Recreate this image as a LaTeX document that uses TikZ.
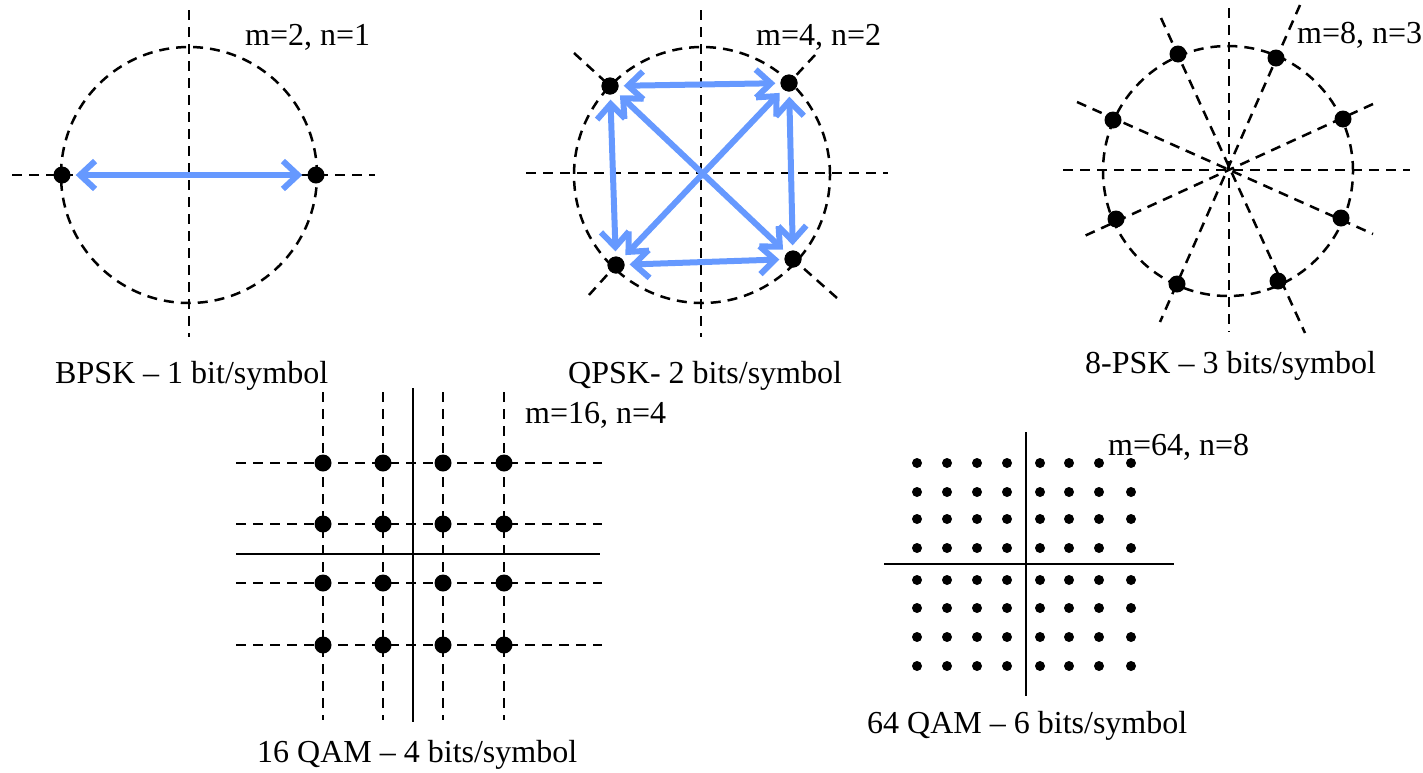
\documentclass[tikz,border=0pt]{standalone}
\usepackage{fontspec}
\setmainfont{Liberation Serif}
\usetikzlibrary{arrows.meta}
\definecolor{arrowblue}{RGB}{102,153,255}
\begin{document}
\begin{tikzpicture}[x=1pt,y=-1pt,
  axis/.style={line width=2.5pt, dash pattern=on 10pt off 7pt},
  solidaxis/.style={line width=2.6pt},
  dot/.style={circle, fill=black, inner sep=0pt, minimum size=17pt},
  smalldot/.style={circle, fill=black, inner sep=0pt, minimum size=10pt},
  link/.style={draw=arrowblue, line width=6pt, line cap=round,
    {Straight Barb[length=15pt,width=28pt]}-{Straight Barb[length=15pt,width=28pt]},
    shorten <=5pt, shorten >=5pt},
  lbl/.style={font=\fontsize{32}{38}\selectfont, inner sep=0pt, anchor=base west}]
\useasboundingbox (0,0) rectangle (1423,772);

% ---------------- BPSK ----------------
\draw[axis] (189,10) -- (189,337);
\draw[axis] (12,175) -- (375,175);
\draw[axis] (189,175) circle[radius=128pt];
\node[dot] (b1) at (62,175) {};
\node[dot] (b2) at (316,175) {};
\draw[link] (b1) -- (b2);
\node[lbl] (bm) at (245,45) {m=2, n=1};
\node[lbl] (bc) at (55,383) {BPSK – 1 bit/symbol};

% ---------------- QPSK ----------------
\draw[axis] (701,10) -- (701,337);
\draw[axis] (526,173) -- (888,173);
\draw[axis] (702,175) circle[radius=128pt];
\coordinate (q1o) at (574,53);
\coordinate (q2o) at (815,55);
\coordinate (q3o) at (589,295);
\coordinate (q4o) at (837,298);
\node[dot] (q1) at (610,86) {};
\node[dot] (q2) at (789,83) {};
\node[dot] (q3) at (616,265) {};
\node[dot] (q4) at (793,259) {};
\draw[axis] (q1o) -- (q1.center);
\draw[axis] (q2o) -- (q2.center);
\draw[axis] (q3o) -- (q3.center);
\draw[axis] (q4o) -- (q4.center);
\node[dot] at (q1) {};
\node[dot] at (q2) {};
\node[dot] at (q3) {};
\node[dot] at (q4) {};
\draw[link] (q1) -- (q2);
\draw[link] (q3) -- (q4);
\draw[link] (q1) -- (q3);
\draw[link] (q2) -- (q4);
\draw[link] (q1) -- (q4);
\draw[link] (q2) -- (q3);
\node[lbl] (qm) at (756,45) {m=4, n=2};
\node[lbl] (qc) at (568,383) {QPSK- 2 bits/symbol};

% ---------------- 8-PSK ----------------
\draw[axis] (1229,8) -- (1229,332);
\draw[axis] (1063,170) -- (1410,170);
\draw[axis] (1228,171) circle[radius=125pt];
\draw[axis] (1373,104) -- (1080,238);
\draw[axis] (1300,5) -- (1160,322);
\draw[axis] (1161,18) -- (1305,333);
\draw[axis] (1077,102) -- (1373,234);
\node[dot] (p1) at (1178,54) {};
\node[dot] (p2) at (1276,58) {};
\node[dot] (p3) at (1113,120) {};
\node[dot] (p4) at (1343,119) {};
\node[dot] (p5) at (1116,219) {};
\node[dot] (p6) at (1341,218) {};
\node[dot] (p7) at (1177,284) {};
\node[dot] (p8) at (1278,281) {};
\node[lbl] (pm) at (1297,43) {m=8, n=3};
\node[lbl] (pc) at (1085,373) {8-PSK – 3 bits/symbol};

% ---------------- 16 QAM ----------------
\foreach \x in {323,383,443,504} \draw[axis] (\x,392) -- (\x,720);
\foreach \y in {463,524,583,645} \draw[axis] (236,\y) -- (602,\y);
\draw[solidaxis] (413,388) -- (413,722);
\draw[solidaxis] (236,554) -- (600,554);
\foreach \x [count=\i] in {323,383,443,504}
  \foreach \y [count=\j] in {463,524,583,645}
    \node[dot] (s\i\j) at (\x,\y) {};
\node[lbl] (sm) at (525,423) {m=16, n=4};
\node[lbl] (sc) at (257,762) {16 QAM – 4 bits/symbol};

% ---------------- 64 QAM ----------------
\draw[solidaxis] (1026,432) -- (1026,696);
\draw[solidaxis] (884,564) -- (1174,564);
\foreach \x [count=\i] in {917,947,977,1007,1040,1069,1099,1131}
  \foreach \y [count=\j] in {463,492,519,548,580,608,637,666}
    \node[smalldot] (t\i\j) at (\x,\y) {};
\node[lbl] (tm) at (1108,455) {m=64, n=8};
\node[lbl] (tc) at (867,733) {64 QAM – 6 bits/symbol};
\end{tikzpicture}
\end{document}
